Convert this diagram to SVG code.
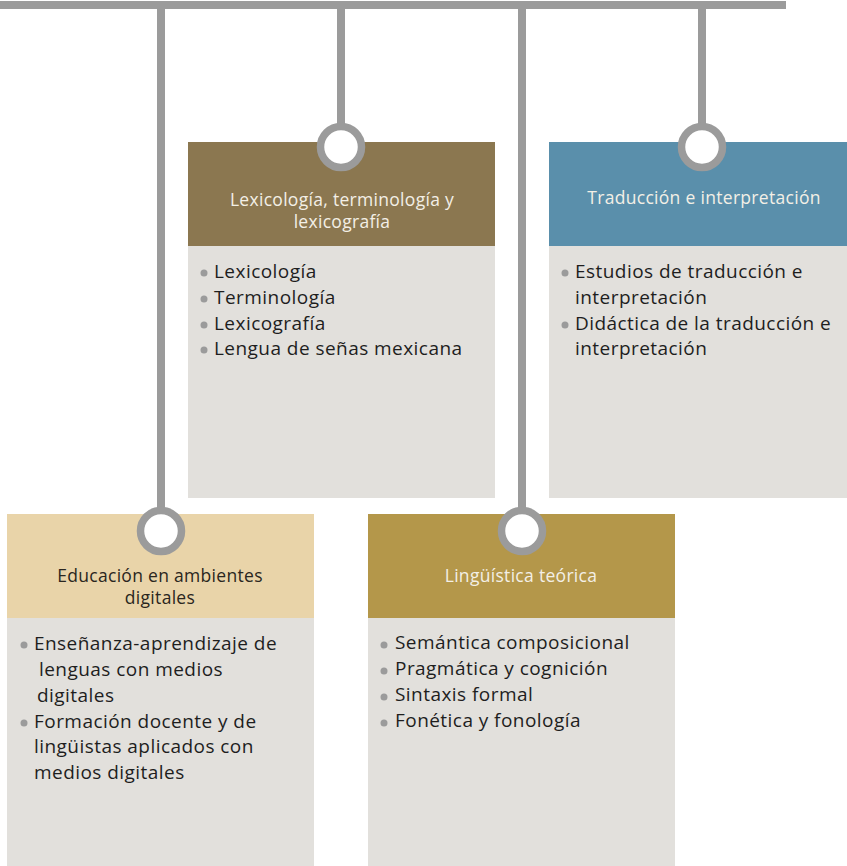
<svg xmlns="http://www.w3.org/2000/svg" width="847" height="866" viewBox="0 0 847 866">
<style>
.body{fill:#e2e0dc}
.ring{fill:#ffffff;stroke:#9b9b9b;stroke-width:7.5}
.hd{font-family:"Open Sans","Noto Sans",sans-serif;font-size:17.5px;letter-spacing:0.3px;text-anchor:middle;fill:#f3efe6}
.hd.dark{fill:#2a2620}
.it{font-family:"Open Sans","Noto Sans",sans-serif;font-size:19px;letter-spacing:0.45px;fill:#1e1e1e}
.dot{fill:#9b9b9b}
.ln{stroke:#9b9b9b;stroke-width:8;fill:none}
</style>
<g id="connectors">
<rect x="0" y="1" width="786" height="8" fill="#9b9b9b"/>
<line class="ln" x1="161" y1="9" x2="161" y2="508"/>
<line class="ln" x1="341" y1="9" x2="341" y2="124"/>
<line class="ln" x1="522" y1="9" x2="522" y2="508"/>
<line class="ln" x1="702" y1="9" x2="702" y2="124"/>
</g>
<g id="lexicologia">
<rect x="188" y="246" width="307" height="252" class="body"/>
<rect x="188" y="142" width="307" height="104" fill="#8b7750"/>
<circle class="ring" cx="341" cy="147" r="20.5"/>
<text class="hd" x="342" y="206">Lexicología, terminología y</text>
<text class="hd" x="342" y="228">lexicografía</text>
<circle class="dot" cx="204" cy="273" r="3.5"/><text class="it" x="214" y="278">Lexicología</text>
<circle class="dot" cx="204" cy="299" r="3.5"/><text class="it" x="214" y="304">Terminología</text>
<circle class="dot" cx="204" cy="325" r="3.5"/><text class="it" x="214" y="330">Lexicografía</text>
<circle class="dot" cx="204" cy="350" r="3.5"/><text class="it" x="214" y="355">Lengua de señas mexicana</text>
</g>
<g id="traduccion">
<rect x="549" y="246" width="298" height="252" class="body"/>
<rect x="549" y="142" width="298" height="104" fill="#5a8fab"/>
<circle class="ring" cx="702" cy="147" r="20.5"/>
<text class="hd" x="704" y="204">Traducción e interpretación</text>
<circle class="dot" cx="565" cy="273" r="3.5"/><text class="it" x="575" y="278">Estudios de traducción e</text>
<text class="it" x="575" y="304">interpretación</text>
<circle class="dot" cx="565" cy="325" r="3.5"/><text class="it" x="575" y="330">Didáctica de la traducción e</text>
<text class="it" x="575" y="355">interpretación</text>
</g>
<g id="educacion">
<rect x="7" y="618" width="307" height="248" class="body"/>
<rect x="7" y="514" width="307" height="104" fill="#e9d4a9"/>
<circle class="ring" cx="161" cy="531" r="20.5"/>
<text class="hd dark" x="160" y="582">Educación en ambientes</text>
<text class="hd dark" x="160" y="604">digitales</text>
<circle class="dot" cx="24" cy="645" r="3.5"/><text class="it" x="34" y="650">Enseñanza-aprendizaje de</text>
<text class="it" x="39" y="676">lenguas con medios</text>
<text class="it" x="37" y="702">digitales</text>
<circle class="dot" cx="24" cy="723" r="3.5"/><text class="it" x="34" y="728">Formación docente y de</text>
<text class="it" x="34" y="753">lingüistas aplicados con</text>
<text class="it" x="34" y="779">medios digitales</text>
</g>
<g id="linguistica">
<rect x="368" y="618" width="307" height="248" class="body"/>
<rect x="368" y="514" width="307" height="104" fill="#b4974a"/>
<circle class="ring" cx="522" cy="531" r="20.5"/>
<text class="hd" x="521" y="582">Lingüística teórica</text>
<circle class="dot" cx="384" cy="645" r="3.5"/><text class="it" x="395" y="649">Semántica composicional</text>
<circle class="dot" cx="384" cy="671" r="3.5"/><text class="it" x="395" y="675">Pragmática y cognición</text>
<circle class="dot" cx="384" cy="697" r="3.5"/><text class="it" x="395" y="701">Sintaxis formal</text>
<circle class="dot" cx="384" cy="723" r="3.5"/><text class="it" x="395" y="727">Fonética y fonología</text>
</g>
</svg>
